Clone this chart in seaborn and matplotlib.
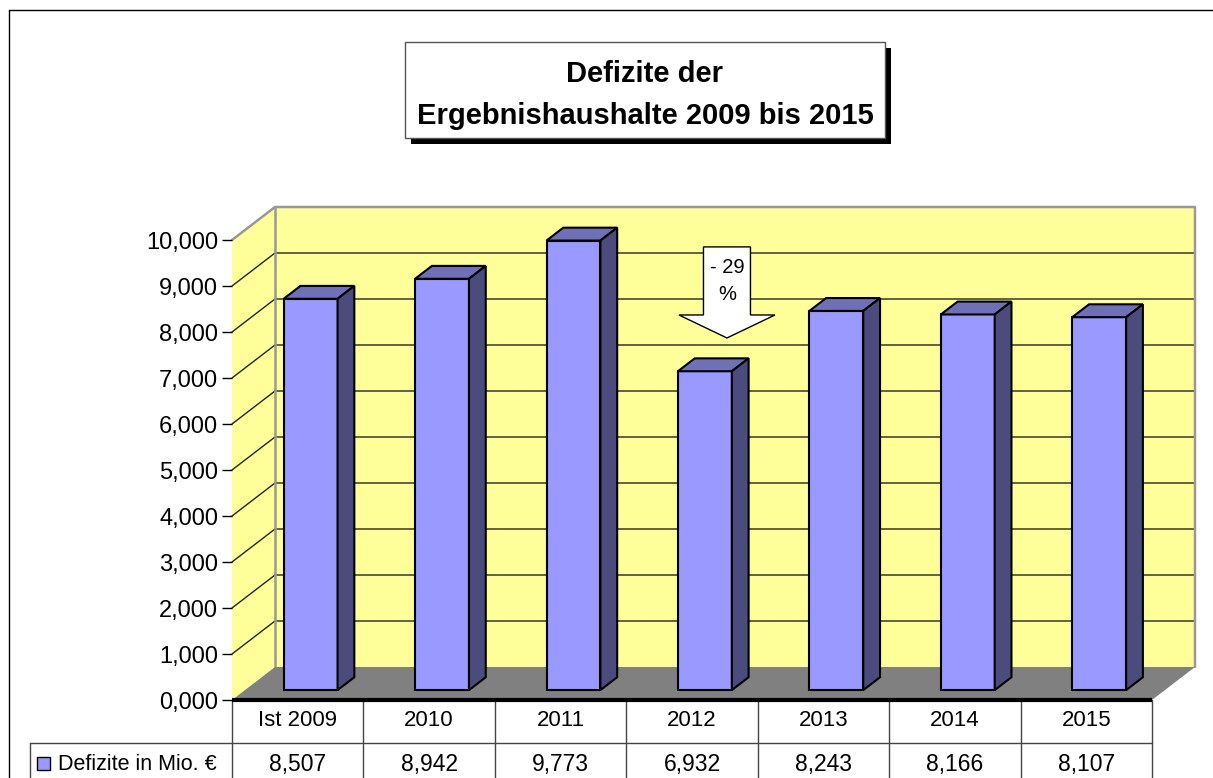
import numpy as np
import matplotlib
matplotlib.use("Agg")
import matplotlib.pyplot as plt
import matplotlib.transforms as mtransforms
from matplotlib.patches import Polygon, Rectangle, FancyArrow
import seaborn as sns

# data
jahre = ["Ist 2009", "2010", "2011", "2012", "2013", "2014", "2015"]
defizite = [8.507, 8.942, 9.773, 6.932, 8.243, 8.166, 8.107]
y_ticks = list(range(0, 11))
reihe = "Defizite in Mio. €"
titel = "Defizite der\nErgebnishaushalte 2009 bis 2015"
pfeil_text = ["- 29", "%"]


def de(v):
    return f"{v:.3f}".replace(".", ",")


sns.set_style("white")
plt.rcParams["font.family"] = ["Liberation Sans", "DejaVu Sans"]
plt.rcParams["text.color"] = "black"
plt.rcParams["ytick.color"] = "black"

W, H = 1213, 778
fig = plt.figure(figsize=(W / 100, H / 100), dpi=100)

# background axes in pixel coords (y down)
bg = fig.add_axes([0, 0, 1, 1])
bg.set_xlim(0, W)
bg.set_ylim(H, 0)
bg.axis("off")

# front plane of the 3d box
ax = fig.add_axes([232 / W, 1 - 700 / H, (1152 - 232) / W, (700 - 240) / H])
ax.patch.set_alpha(0)

sns.barplot(x=jahre, y=defizite, ax=ax, color="#9999FF", saturation=1,
            width=0.41, edgecolor="black", linewidth=1.5)
ax.set_xlim(-0.5, 6.5)
ax.set_ylim(0, 10)

DX, DY = 43, 33   # full depth of the box in px
d0, d1 = 0.30, 0.69  # bar front / back depth


def to_px(x, y, d=0.0):
    X, Y = ax.transData.transform((x, y))
    return (X + DX * d, (H - Y) - DY * d)


# walls and floor
lw_ = [to_px(-0.5, 0), to_px(-0.5, 0, 1), to_px(-0.5, 10, 1), to_px(-0.5, 10)]
bg.add_patch(Polygon(lw_, closed=True, fc="#FFFF99", ec="none", zorder=1))
back = [to_px(-0.5, 0, 1), to_px(6.5, 0, 1), to_px(6.5, 10, 1), to_px(-0.5, 10, 1)]
bg.add_patch(Polygon(back, closed=True, fc="#FFFF99", ec="none", zorder=1))

for v in y_ticks[1:-1]:
    a, b, c = to_px(-0.5, v), to_px(-0.5, v, 1), to_px(6.5, v, 1)
    bg.plot([a[0], b[0], c[0]], [a[1], b[1], c[1]], color="#222222", lw=1, zorder=2)

edge = [to_px(-0.5, 10), to_px(-0.5, 10, 1), to_px(6.5, 10, 1), to_px(6.5, 0, 1)]
bg.plot([p[0] for p in edge], [p[1] for p in edge], color="#999999", lw=1.8, zorder=3)
e2 = [to_px(-0.5, 10, 1), to_px(-0.5, 0, 1)]
bg.plot([p[0] for p in e2], [p[1] for p in e2], color="#999999", lw=1.8, zorder=3)

floor = [to_px(-0.5, 0), to_px(6.5, 0), to_px(6.5, 0, 1), to_px(-0.5, 0, 1)]
bg.add_patch(Polygon(floor, closed=True, fc="#808080", ec="none", zorder=4))

# bars: shift front faces and add top / side faces
shift = mtransforms.offset_copy(ax.transData, fig=fig, x=DX * d0, y=DY * d0, units="dots")
for p in ax.patches:
    x0, w, h = p.get_x(), p.get_width(), p.get_height()
    p.set_transform(shift)
    p.set_clip_on(False)
    p.set_joinstyle("miter")
    top = [to_px(x0, h, d0), to_px(x0 + w, h, d0), to_px(x0 + w, h, d1), to_px(x0, h, d1)]
    side = [to_px(x0 + w, 0, d0), to_px(x0 + w, h, d0), to_px(x0 + w, h, d1), to_px(x0 + w, 0, d1)]
    for poly, fc in [(top, "#7070B8"), (side, "#4B4B7E")]:
        ax.add_patch(Polygon(poly, closed=True, fc=fc, ec="black", lw=1.5,
                             joinstyle="miter", transform=bg.transData, clip_on=False))

# axis styling
ax.set_yticks(y_ticks)
ax.set_yticklabels([de(v) for v in y_ticks])
ax.tick_params(axis="y", length=7, width=1, color="black", labelcolor="black",
               labelsize=17, pad=3, left=True)
ax.tick_params(axis="x", bottom=False, labelbottom=False)
for s in ax.spines.values():
    s.set_visible(False)
ax.set_xlabel("")
ax.set_ylabel("")

# data table
tc = "#444444"
xs = [to_px(i - 0.5, 0)[0] for i in range(len(jahre) + 1)]
bg.plot([xs[0], xs[-1]], [700, 700], color="black", lw=3, zorder=6, solid_capstyle="butt")
for x in xs:
    bg.plot([x, x], [700, H], color=tc, lw=1, zorder=5)
bg.plot([30, xs[-1]], [743, 743], color=tc, lw=1, zorder=5)
bg.plot([30, 30], [743, H], color=tc, lw=1, zorder=5)
for i, (j, v) in enumerate(zip(jahre, defizite)):
    cx = to_px(i, 0)[0]
    bg.text(cx, 721, j, ha="center", va="center", fontsize=16)
    bg.text(cx, 764, de(v), ha="center", va="center", fontsize=16.5)
bg.add_patch(Rectangle((37, 757), 13, 13, fc="#9999FF", ec="black", lw=1, zorder=6))
bg.text(58, 764, reihe, ha="left", va="center", fontsize=15.5)

# arrow annotation
ax_x = 3.266
top_p, tip_p = to_px(ax_x, 9.85), to_px(ax_x, 7.87)
bg.add_patch(FancyArrow(top_p[0], top_p[1], 0, tip_p[1] - top_p[1], width=47,
                        head_width=96, head_length=23, length_includes_head=True,
                        fc="white", ec="black", lw=1, zorder=7))
bg.text(top_p[0], 267, pfeil_text[0], ha="center", va="center", fontsize=14.5, zorder=8)
bg.text(top_p[0], 294, pfeil_text[1], ha="center", va="center", fontsize=14.5, zorder=8)

# title box with shadow
bg.add_patch(Rectangle((411, 48), 480, 96, fc="black", ec="none", zorder=7))
bg.add_patch(Rectangle((405, 42), 480, 96, fc="white", ec="#555555", lw=1, zorder=8))
bg.text(645, 95, titel, ha="center", va="center", fontsize=21, fontweight="bold",
        linespacing=1.65, zorder=9)

# outer frame
bg.plot([9, W], [10, 10], color="black", lw=1, zorder=9)
bg.plot([9, 9], [10, H], color="black", lw=1, zorder=9)

fig.savefig("out.png", dpi=100)
